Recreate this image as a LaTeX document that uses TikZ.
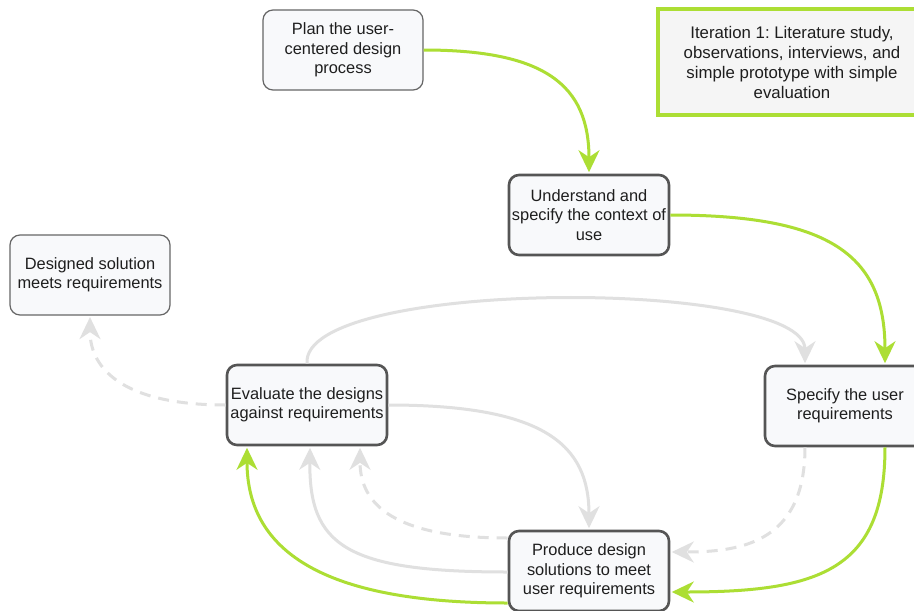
\documentclass[tikz,border=0pt]{standalone}
\usepackage{fontspec}
\setmainfont{Liberation Sans}
\frenchspacing
\usetikzlibrary{arrows.meta}
\definecolor{leaf}{RGB}{172,222,52}
\definecolor{mist}{RGB}{224,224,224}
\definecolor{boxfill}{RGB}{248,249,251}
\definecolor{edge}{RGB}{85,85,85}
\definecolor{ink}{RGB}{30,30,30}
\tikzset{
  stepbox/.style={draw=edge, line width=2.6pt, fill=boxfill, rounded corners=10pt,
    minimum width=160pt, minimum height=80pt, align=center, text=ink,
    font=\fontsize{16.4}{19.5}\selectfont, inner sep=0pt},
  thinbox/.style={stepbox, line width=1.2pt, draw=edge!90},
  notebox/.style={draw=leaf, line width=4pt, fill=black!4, align=center, text=ink,
    font=\fontsize{16.8}{20}\selectfont, inner sep=0pt},
  tip/.style={-{Stealth[length=22pt,width=21pt,inset=7pt]}, shorten >=1.5pt},
  greenflow/.style={tip, draw=leaf, line width=3pt},
  grayflow/.style={tip, draw=mist, line width=3pt},
  grayhint/.style={grayflow, dash pattern=on 11pt off 8pt},
}
\begin{document}
\begin{tikzpicture}[x=1pt, y=-1pt]
\clip (0,0) rectangle (914,611);
\fill[white] (0,0) rectangle (914,611);

% process steps
\node[thinbox] (plan) at (343,50) {Plan the user-\\centered design\\process};
\node[stepbox] (und) at (589,215) {Understand and\\specify the context of\\use};
\node[stepbox] (spec) at (845,406) {Specify the user\\requirements};
\node[stepbox] (prod) at (589,571) {Produce design\\solutions to meet\\user requirements};
\node[stepbox] (eval) at (307,405) {Evaluate the designs\\against requirements};
\node[thinbox] (done) at (90,275) {Designed solution\\meets requirements};

% iteration note
\node[notebox, minimum width=268pt, minimum height=106pt] (note) at (792,62)
  {Iteration 1: Literature study,\\observations, interviews, and\\simple prototype with simple\\evaluation};

% light gray loops (drawn first, beneath the green path)
\draw[grayflow] (eval.north) .. controls (300,278) and (805,278) .. ([xshift=-40pt]spec.north);
\draw[grayflow] (eval.east) .. controls (545,405) and (589,445) .. (prod.north);
\draw[grayflow] ([yshift=-1pt]prod.west) .. controls (345,572) and (309,545) .. ([xshift=3pt]eval.south);
\draw[grayhint] ([yshift=33pt]prod.west) .. controls (395,538) and (360,505) .. ([xshift=53pt]eval.south);
\draw[grayhint] ([xshift=-40pt]spec.south) .. controls (805,540) and (745,552) .. ([yshift=19pt]prod.east);
\draw[grayhint] (eval.west) .. controls (125,405) and (90,370) .. (done.south);

% green iteration path
\draw[greenflow] (plan.east) .. controls (545,50) and (589,85) .. (und.north);
\draw[greenflow] (und.east) .. controls (830,215) and (885,255) .. ([xshift=40pt]spec.north);
\draw[greenflow] ([xshift=40pt]spec.south) .. controls (885,570) and (820,592) .. ([yshift=-21pt]prod.east);
\draw[greenflow] ([yshift=-32pt]prod.west) .. controls (330,603) and (247,555) .. ([xshift=-60pt]eval.south);
\end{tikzpicture}
\end{document}
